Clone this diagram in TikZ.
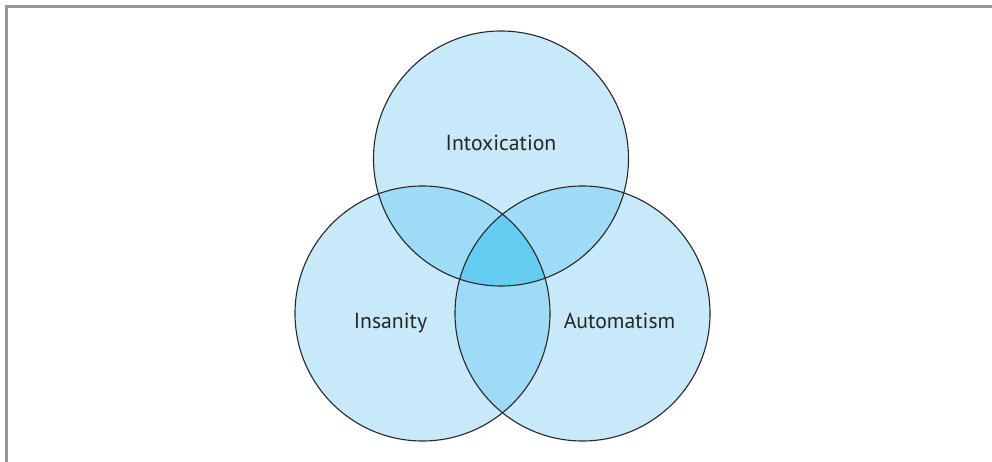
\documentclass[tikz,border=0pt]{standalone}
\usepackage{fontspec}
\setmainfont{PT Sans}
\definecolor{one}{RGB}{199,233,249}
\definecolor{two}{RGB}{158,219,246}
\definecolor{three}{RGB}{102,205,242}
\definecolor{framegray}{RGB}{150,150,150}
\definecolor{edge}{RGB}{40,40,40}
\begin{document}
\begin{tikzpicture}[x=1pt,y=-1pt,
  lbl/.style={font=\fontsize{21.7}{26}\selectfont, text=black!85, inner sep=0pt, anchor=base}]
\useasboundingbox (0,0) rectangle (992,462);
\coordinate (cT) at (501,158.5);
\coordinate (cL) at (422.5,313.5);
\coordinate (cR) at (582.5,313.5);
\def\rr{127.5}
% frame
\coordinate (f1) at (6.5,462);
\coordinate (f2) at (6.5,6.5);
\coordinate (f3) at (992,6.5);
\draw[framegray, line width=3pt] (f1) -- (f2) -- (f3);
% single fills
\fill[one] (cT) circle (\rr);
\fill[one] (cL) circle (\rr);
\fill[one] (cR) circle (\rr);
% pairwise
\begin{scope}\clip (cT) circle (\rr); \fill[two] (cL) circle (\rr); \fill[two] (cR) circle (\rr); \end{scope}
\begin{scope}\clip (cL) circle (\rr); \fill[two] (cR) circle (\rr); \end{scope}
% triple
\begin{scope}\clip (cT) circle (\rr); \clip (cL) circle (\rr); \fill[three] (cR) circle (\rr); \end{scope}
% outlines
\draw[edge, line width=1.1pt] (cT) circle (\rr);
\draw[edge, line width=1.1pt] (cL) circle (\rr);
\draw[edge, line width=1.1pt] (cR) circle (\rr);
% labels
\node[lbl] (intox) at (501,151) {Intoxication};
\node[lbl] (insan) at (390.5,328.5) {Insanity};
\node[lbl] (auto) at (619.5,328.5) {Automatism};
\end{tikzpicture}
\end{document}
